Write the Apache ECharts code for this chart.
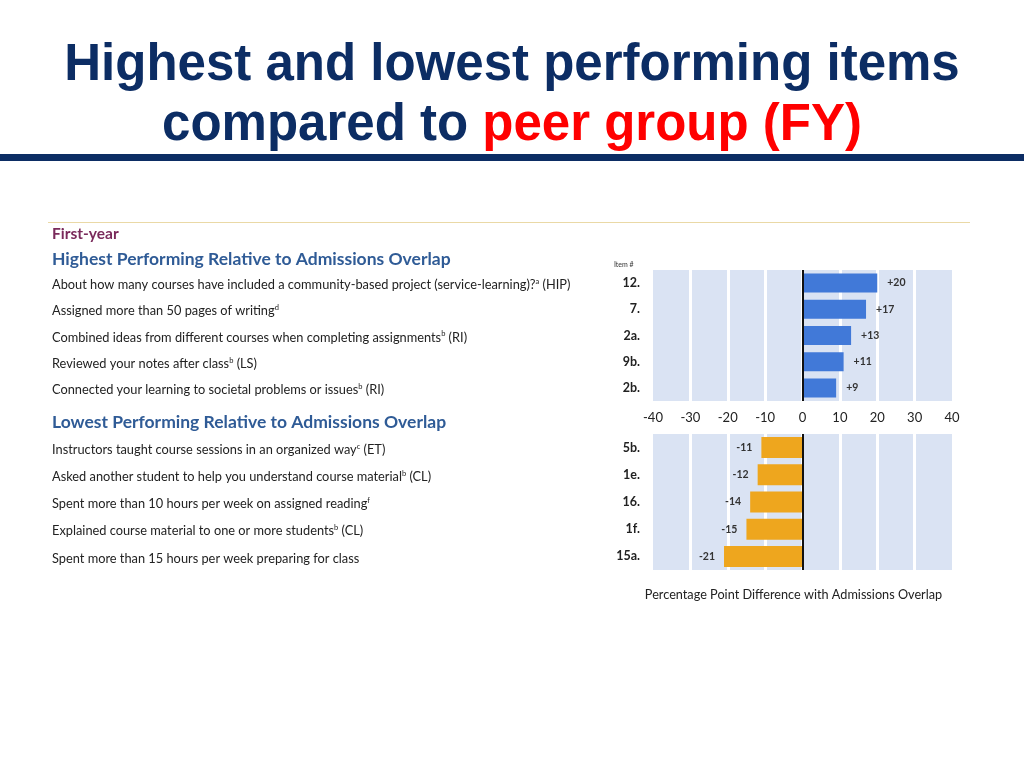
<!DOCTYPE html>
<html>
<head>
<meta charset="utf-8">
<style>
html,body{margin:0;padding:0;background:#fff;}
#chart{width:1024px;height:768px;}
</style>
<script src="https://cdn.jsdelivr.net/npm/echarts@6/dist/echarts.min.js"></script>
</head>
<body>
<div id="chart"></div>
<script>
// ---- data ----
var highItems = ['12.', '7.', '2a.', '9b.', '2b.'];
var highValues = [20, 17, 13, 11, 9];
var highDesc = [
  'About how many courses have included a community-based project (service-learning)?{s|a} (HIP)',
  'Assigned more than 50 pages of writing{s|d}',
  'Combined ideas from different courses when completing assignments{s|b} (RI)',
  'Reviewed your notes after class{s|b} (LS)',
  'Connected your learning to societal problems or issues{s|b} (RI)'
];
var lowItems = ['5b.', '1e.', '16.', '1f.', '15a.'];
var lowValues = [-11, -12, -14, -15, -21];
var lowDesc = [
  'Instructors taught course sessions in an organized way{s|c} (ET)',
  'Asked another student to help you understand course material{s|b} (CL)',
  'Spent more than 10 hours per week on assigned reading{s|f}',
  'Explained course material to one or more students{s|b} (CL)',
  'Spent more than 15 hours per week preparing for class'
];
var xTicks = [-40, -30, -20, -10, 0, 10, 20, 30, 40];
var titleLine1 = 'Highest and lowest performing items';
var titleLine2a = 'compared to ';
var titleLine2b = 'peer group (FY)';
var sectionLabel = 'First-year';
var highHeading = 'Highest Performing Relative to Admissions Overlap';
var lowHeading = 'Lowest Performing Relative to Admissions Overlap';
var xAxisTitle = 'Percentage Point Difference with Admissions Overlap';

var NAVY = '#0c2d64';
var BAND = '#dae3f3';
var BLUE = '#4179d8';
var ORANGE = '#eea61e';
var FONT = 'Lato, "Open Sans", sans-serif';
var TFONT = 'bold 51px "Liberation Sans", Arial, sans-serif';

var chart = echarts.init(document.getElementById('chart'), null, {renderer: 'canvas'});

function xAxisCfg(gi, showLabels, name) {
  return {
    type: 'value', gridIndex: gi, min: xTicks[0], max: xTicks[xTicks.length - 1], interval: 10,
    axisLine: {show: false}, axisTick: {show: false},
    axisLabel: {show: showLabels, margin: 10, fontSize: 13, color: '#222', fontFamily: FONT},
    splitLine: {show: true, showMinLine: false, showMaxLine: false, lineStyle: {color: '#ffffff', width: 3}},
    name: name, nameLocation: 'middle', nameGap: 18,
    nameTextStyle: {fontSize: 12.7, color: '#222', fontFamily: FONT, padding: [0, 18, 0, 0]}
  };
}
function itemAxis(gi, data) {
  return {
    type: 'category', gridIndex: gi, data: data, inverse: true, position: 'left',
    axisLine: {show: false}, axisTick: {show: false},
    axisLabel: {margin: 13, fontSize: 12.5, fontWeight: 'bold', color: '#222', fontFamily: FONT}
  };
}
function descAxis(gi, data) {
  return {
    type: 'category', gridIndex: gi, data: data, inverse: true, position: 'left',
    axisLine: {show: false}, axisTick: {show: false}, splitLine: {show: false},
    axisLabel: {
      margin: 601, align: 'left', fontSize: 12.8, color: '#222', fontFamily: FONT, padding: [4, 0, 0, 0],
      rich: {s: {fontSize: 7.5, verticalAlign: 'top', color: '#222', fontFamily: FONT, padding: [0, 0, 7, 0]}}
    }
  };
}
function zeroLine() {
  return {
    silent: true, symbol: 'none', animation: false,
    label: {show: false},
    lineStyle: {color: '#111', width: 2, type: 'solid'},
    data: [{xAxis: 0}]
  };
}

var option = {
  backgroundColor: '#ffffff',
  animation: false,
  textStyle: {fontFamily: FONT},
  grid: [
    {left: 653, right: 72, top: 270, height: 131, show: true, backgroundColor: BAND, borderWidth: 0, containLabel: false},
    {left: 653, right: 72, top: 434, height: 136, show: true, backgroundColor: BAND, borderWidth: 0, containLabel: false}
  ],
  xAxis: [xAxisCfg(0, true, ''), xAxisCfg(1, false, xAxisTitle)],
  yAxis: [itemAxis(0, highItems), descAxis(0, highDesc), itemAxis(1, lowItems), descAxis(1, lowDesc)],
  series: [
    {
      type: 'bar', xAxisIndex: 0, yAxisIndex: 0, data: highValues, barWidth: 19,
      itemStyle: {color: BLUE},
      label: {show: true, position: 'right', distance: 10, fontSize: 10.5, fontWeight: 'bold', color: '#333', fontFamily: FONT,
        formatter: function (p) { return '+' + p.value; }},
      markLine: zeroLine()
    },
    {
      type: 'bar', xAxisIndex: 1, yAxisIndex: 2, data: lowValues, barWidth: 21,
      itemStyle: {color: ORANGE},
      label: {show: true, position: 'left', distance: 9, fontSize: 10.5, fontWeight: 'bold', color: '#333', fontFamily: FONT,
        formatter: function (p) { return '' + p.value; }},
      markLine: zeroLine()
    }
  ],
  graphic: [
    {type: 'text', left: 'center', top: 40, style: {text: titleLine1, font: TFONT, fill: NAVY}},
    {type: 'text', left: 'center', top: 100, style: {
      text: '{n|' + titleLine2a + '}{r|' + titleLine2b + '}',
      rich: {
        n: {font: TFONT, fill: NAVY, color: NAVY},
        r: {font: TFONT, fill: '#ff0000', color: '#ff0000'}
      }
    }},
    {type: 'rect', shape: {x: 0, y: 154, width: 1024, height: 7}, style: {fill: NAVY}},
    {type: 'rect', shape: {x: 48, y: 222, width: 922, height: 1}, style: {fill: '#ead9a6'}},
    {type: 'text', x: 52, y: 234, style: {text: sectionLabel, font: 'bold 15.5px Lato, sans-serif', fill: '#7a2a5b', verticalAlign: 'middle'}},
    {type: 'text', x: 52, y: 259, style: {text: highHeading, font: 'bold 17.5px Lato, sans-serif', fill: '#2f5b96', verticalAlign: 'middle'}},
    {type: 'text', x: 52, y: 422, style: {text: lowHeading, font: 'bold 17.5px Lato, sans-serif', fill: '#2f5b96', verticalAlign: 'middle'}},
    {type: 'text', x: 614, y: 265, style: {text: 'Item #', font: '7px Lato, sans-serif', fill: '#333', verticalAlign: 'middle'}}
  ]
};
chart.setOption(option);
</script>
</body>
</html>
